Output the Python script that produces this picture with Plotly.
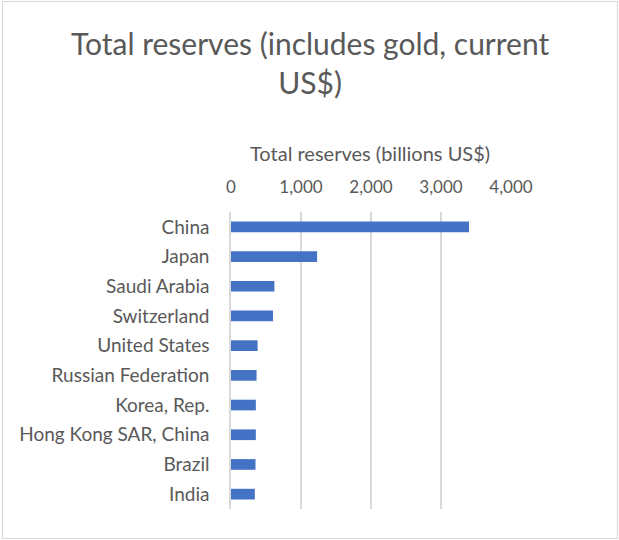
import plotly.graph_objects as go

# Total reserves by country, billions of current US$
countries = ["China", "Japan", "Saudi Arabia", "Switzerland", "United States",
             "Russian Federation", "Korea, Rep.", "Hong Kong SAR, China", "Brazil", "India"]
reserves = [3400, 1230, 620, 600, 380, 365, 355, 355, 350, 340]

x_ticks = [0, 1000, 2000, 3000, 4000]

FONT = "Lato"
TEXT = "#595959"
GRID = "#d9d9d9"
BAR = "#4472C4"

W, H = 619, 540
ML, MR, MT, MB = 231, 108, 212, 31
pw, ph = W - ML - MR, H - MT - MB


def px(x):
    return (x - ML) / pw


def py(y):
    return (H - MB - y) / ph


fig = go.Figure(go.Bar(
    x=reserves, y=countries, orientation="h",
    marker=dict(color=BAR, line=dict(width=0)),
    width=0.36,
))

fig.update_layout(
    width=W, height=H,
    margin=dict(l=ML, r=MR, t=MT, b=MB),
    paper_bgcolor="white", plot_bgcolor="white",
    font=dict(family=FONT, color=TEXT),
    showlegend=False,
    bargap=0.64,
    xaxis=dict(
        side="top", range=[0, 4000], tickvals=x_ticks, tickformat=",",
        showgrid=True, gridcolor=GRID, gridwidth=1.5, zeroline=False,
        showline=False, ticks="", ticklabelstandoff=15,
        tickfont=dict(size=17, color=TEXT),
        fixedrange=True,
    ),
    yaxis=dict(
        autorange="reversed", showgrid=False, zeroline=False,
        showline=True, linecolor=GRID, linewidth=1.5,
        ticks="", ticklabelstandoff=16,
        tickfont=dict(size=19, color=TEXT),
    ),
    annotations=[
        dict(text="Total reserves (includes gold, current<br>US$)",
             xref="paper", yref="paper", x=px(310), y=py(62),
             xanchor="center", yanchor="middle", showarrow=False,
             font=dict(size=30, color=TEXT, family=FONT)),
        dict(text="Total reserves (billions US$)",
             xref="paper", yref="paper", x=px(370), y=py(153),
             xanchor="center", yanchor="middle", showarrow=False,
             font=dict(size=20, color=TEXT, family=FONT)),
    ],
    shapes=[
        dict(type="rect", xref="paper", yref="paper",
             x0=px(2.5), x1=px(617.5), y0=py(538.5), y1=py(1.5),
             line=dict(color=GRID, width=1.2), fillcolor="rgba(0,0,0,0)",
             layer="below"),
    ],
)

fig.write_html("out.html")
